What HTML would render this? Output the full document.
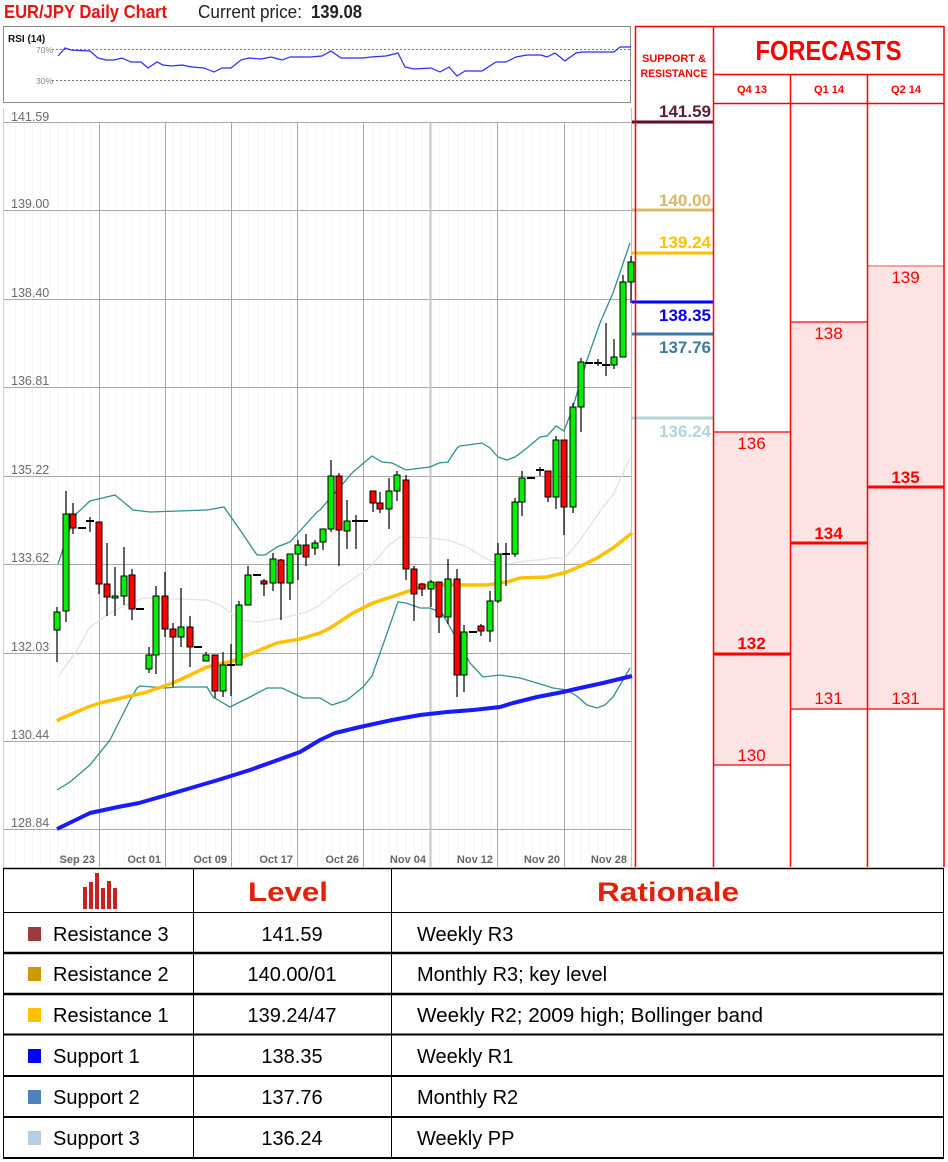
<!DOCTYPE html>
<html><head><meta charset="utf-8"><style>
html,body{margin:0;padding:0;background:#fff;}
svg{display:block;font-family:"Liberation Sans",Arial,sans-serif;}
.w{stroke:#000;stroke-width:1.2;}
.g{fill:#00ee00;stroke:#000;stroke-width:1;}
.r{fill:#ff0000;stroke:#000;stroke-width:1;}
.d{stroke:#000;stroke-width:2;}
.yl{font-size:12.5px;fill:#6a6a6a;}
.xl{font-size:11px;font-weight:bold;fill:#666;text-anchor:end;}
.sr{font-size:17px;font-weight:bold;text-anchor:end;}
.fc{font-size:17px;fill:#ff0000;text-anchor:middle;}
.fb{font-size:17px;fill:#ff0000;font-weight:bold;text-anchor:middle;}
.tb{font-size:20px;fill:#000;}
</style></head><body>
<svg width="948" height="1162" viewBox="0 0 948 1162" xmlns="http://www.w3.org/2000/svg">
<rect x="0" y="0" width="948" height="1162" fill="#fff"/>
<!-- Header -->
<text x="4" y="18" font-size="18" font-weight="bold" fill="#f01010" textLength="163" lengthAdjust="spacingAndGlyphs">EUR/JPY Daily Chart</text>
<text x="198" y="18" font-size="18" fill="#222" textLength="104" lengthAdjust="spacingAndGlyphs">Current price:</text>
<text x="311" y="18" font-size="18" font-weight="bold" fill="#222" textLength="51" lengthAdjust="spacingAndGlyphs">139.08</text>

<!-- RSI box -->
<rect x="3.5" y="26.5" width="627" height="76" fill="#fff" stroke="#8a8a8a" stroke-width="1"/>
<text x="8" y="42" font-size="10" font-weight="bold" fill="#111">RSI (14)</text>
<text x="36" y="53" font-size="8.5" fill="#888">70%</text>
<text x="36" y="84" font-size="8.5" fill="#888">30%</text>
<line x1="52" y1="49.5" x2="630" y2="49.5" stroke="#777" stroke-width="1" stroke-dasharray="2,2"/>
<line x1="52" y1="80.5" x2="630" y2="80.5" stroke="#777" stroke-width="1" stroke-dasharray="2,2"/>
<polyline fill="none" stroke="#2a2aff" stroke-width="1.2" points="58,56 65,48 71,50 90,51 98,58 106,60 114,60 122,58 131,62 141,62 148,68 157,62 163,65 171,66 182,65 192,67 204,68 214,72 222,68 231,68 241,60 249,58 261,59 271,57 282,60 290,57 302,57 310,57 322,56 331,51 341,58 363,58 371,57 386,56 398,53 405,67 414,69 431,68 440,72 449,67 457,76 465,71 482,71 496,62 506,62 516,57 527,55 541,55 547,57 555,53 565,61 576,53 582,52 614,52 620,47 631,47"/>

<!-- Minor vertical grid -->
<g stroke="#f6f6f6" stroke-width="1">
<line x1="15.5" y1="122" x2="15.5" y2="866"/><line x1="24.5" y1="122" x2="24.5" y2="866"/><line x1="32.5" y1="122" x2="32.5" y2="866"/><line x1="40.5" y1="122" x2="40.5" y2="866"/><line x1="49.5" y1="122" x2="49.5" y2="866"/>
<line x1="57.5" y1="122" x2="57.5" y2="866"/><line x1="66.5" y1="122" x2="66.5" y2="866"/><line x1="73.5" y1="122" x2="73.5" y2="866"/><line x1="82.5" y1="122" x2="82.5" y2="866"/><line x1="90.5" y1="122" x2="90.5" y2="866"/>
<line x1="107.5" y1="122" x2="107.5" y2="866"/><line x1="115.5" y1="122" x2="115.5" y2="866"/><line x1="124.5" y1="122" x2="124.5" y2="866"/><line x1="132.5" y1="122" x2="132.5" y2="866"/><line x1="140.5" y1="122" x2="140.5" y2="866"/><line x1="149.5" y1="122" x2="149.5" y2="866"/><line x1="156.5" y1="122" x2="156.5" y2="866"/>
<line x1="173.5" y1="122" x2="173.5" y2="866"/><line x1="181.5" y1="122" x2="181.5" y2="866"/><line x1="190.5" y1="122" x2="190.5" y2="866"/><line x1="198.5" y1="122" x2="198.5" y2="866"/><line x1="206.5" y1="122" x2="206.5" y2="866"/><line x1="215.5" y1="122" x2="215.5" y2="866"/><line x1="223.5" y1="122" x2="223.5" y2="866"/>
<line x1="239.5" y1="122" x2="239.5" y2="866"/><line x1="248.5" y1="122" x2="248.5" y2="866"/><line x1="257.5" y1="122" x2="257.5" y2="866"/><line x1="264.5" y1="122" x2="264.5" y2="866"/><line x1="273.5" y1="122" x2="273.5" y2="866"/><line x1="281.5" y1="122" x2="281.5" y2="866"/><line x1="290.5" y1="122" x2="290.5" y2="866"/>
<line x1="306.5" y1="122" x2="306.5" y2="866"/><line x1="315.5" y1="122" x2="315.5" y2="866"/><line x1="323.5" y1="122" x2="323.5" y2="866"/><line x1="331.5" y1="122" x2="331.5" y2="866"/><line x1="339.5" y1="122" x2="339.5" y2="866"/><line x1="347.5" y1="122" x2="347.5" y2="866"/><line x1="356.5" y1="122" x2="356.5" y2="866"/>
<line x1="373.5" y1="122" x2="373.5" y2="866"/><line x1="380.5" y1="122" x2="380.5" y2="866"/><line x1="389.5" y1="122" x2="389.5" y2="866"/><line x1="397.5" y1="122" x2="397.5" y2="866"/><line x1="406.5" y1="122" x2="406.5" y2="866"/><line x1="414.5" y1="122" x2="414.5" y2="866"/><line x1="422.5" y1="122" x2="422.5" y2="866"/>
<line x1="439.5" y1="122" x2="439.5" y2="866"/><line x1="448.5" y1="122" x2="448.5" y2="866"/><line x1="457.5" y1="122" x2="457.5" y2="866"/><line x1="464.5" y1="122" x2="464.5" y2="866"/><line x1="473.5" y1="122" x2="473.5" y2="866"/><line x1="481.5" y1="122" x2="481.5" y2="866"/><line x1="490.5" y1="122" x2="490.5" y2="866"/>
<line x1="506.5" y1="122" x2="506.5" y2="866"/><line x1="515.5" y1="122" x2="515.5" y2="866"/><line x1="522.5" y1="122" x2="522.5" y2="866"/><line x1="531.5" y1="122" x2="531.5" y2="866"/><line x1="540.5" y1="122" x2="540.5" y2="866"/><line x1="548.5" y1="122" x2="548.5" y2="866"/><line x1="556.5" y1="122" x2="556.5" y2="866"/>
<line x1="573.5" y1="122" x2="573.5" y2="866"/><line x1="581.5" y1="122" x2="581.5" y2="866"/><line x1="589.5" y1="122" x2="589.5" y2="866"/><line x1="598.5" y1="122" x2="598.5" y2="866"/><line x1="606.5" y1="122" x2="606.5" y2="866"/><line x1="614.5" y1="122" x2="614.5" y2="866"/><line x1="623.5" y1="122" x2="623.5" y2="866"/>
</g>

<!-- Major grid -->
<g stroke="#a8a8a8" stroke-width="1">
<line x1="3" y1="122.5" x2="631" y2="122.5"/>
<line x1="3" y1="210.5" x2="631" y2="210.5"/>
<line x1="3" y1="299.5" x2="631" y2="299.5"/>
<line x1="3" y1="387.5" x2="631" y2="387.5"/>
<line x1="3" y1="476.5" x2="631" y2="476.5"/>
<line x1="3" y1="564.5" x2="631" y2="564.5"/>
<line x1="3" y1="653.5" x2="631" y2="653.5"/>
<line x1="3" y1="741.5" x2="631" y2="741.5"/>
<line x1="3" y1="829.5" x2="631" y2="829.5"/>
<line x1="99.5" y1="122" x2="99.5" y2="867"/>
<line x1="165.5" y1="122" x2="165.5" y2="867"/>
<line x1="231.5" y1="122" x2="231.5" y2="867"/>
<line x1="297.5" y1="122" x2="297.5" y2="867"/>
<line x1="363.5" y1="122" x2="363.5" y2="867"/>
<line x1="497.5" y1="122" x2="497.5" y2="867"/>
<line x1="564.5" y1="122" x2="564.5" y2="867"/>
</g>
<line x1="430.5" y1="122" x2="430.5" y2="867" stroke="#c4c4c4" stroke-width="2"/>
<line x1="3.5" y1="108" x2="3.5" y2="867" stroke="#d0d0d0" stroke-width="1"/>
<line x1="631.5" y1="108" x2="631.5" y2="867" stroke="#c0c0c0" stroke-width="1"/>

<!-- Y labels -->
<text class="yl" x="11" y="121">141.59</text>
<text class="yl" x="11" y="208">139.00</text>
<text class="yl" x="11" y="297">138.40</text>
<text class="yl" x="11" y="385">136.81</text>
<text class="yl" x="11" y="474">135.22</text>
<text class="yl" x="11" y="562">133.62</text>
<text class="yl" x="11" y="651">132.03</text>
<text class="yl" x="11" y="739">130.44</text>
<text class="yl" x="11" y="827">128.84</text>

<!-- X labels -->
<text class="xl" x="95" y="863">Sep 23</text>
<text class="xl" x="161" y="863">Oct 01</text>
<text class="xl" x="227" y="863">Oct 09</text>
<text class="xl" x="293" y="863">Oct 17</text>
<text class="xl" x="359" y="863">Oct 26</text>
<text class="xl" x="426" y="863">Nov 04</text>
<text class="xl" x="493" y="863">Nov 12</text>
<text class="xl" x="560" y="863">Nov 20</text>
<text class="xl" x="627" y="863">Nov 28</text>

<!-- Indicator lines -->
<polyline fill="none" stroke="#e2e2e2" stroke-width="1.3" points="58,677 77,650 90,627 110,613 130,603 143,598 207,600 220,605 240,620 257,622 283,618 307,612 320,605 340,588 370,567 387,547 400,537 430,538 448,540 467,547 483,557 500,565 520,562 553,558 565,558 580,540 603,507 613,495 630,458"/>
<polyline fill="none" stroke="#2e9090" stroke-width="1.3" points="58,564 66,540 75,515 90,501 115,495 133,510 150,512 207,510 224,507 240,530 257,555 265,555 277,547 290,542 317,512 320,510 340,487 353,472 372,456 382,462 392,463 406,470 430,467 439,463 448,462 457,448 460,446 482,443 490,448 498,457 507,460 515,457 527,448 540,437 547,436 556,426 564,431 572,410 587,360 600,323 613,293 630,243"/>
<polyline fill="none" stroke="#2e9090" stroke-width="1.3" points="57,790 70,782 90,765 110,740 120,720 130,700 137,688 140,686 165,688 178,687 207,687 213,697 230,707 250,697 267,688 282,688 303,698 320,698 332,705 347,700 363,687 372,676 398,602 406,603 420,608 430,608 442,613 450,627 470,663 483,677 500,675 520,678 537,683 553,688 567,690 578,697 587,705 597,708 605,705 613,697 623,680 630,668"/>
<polyline fill="none" stroke="#ffc000" stroke-width="3.5" stroke-linejoin="round" points="57,721 60,719 88,707 100,703 130,696 147,692 173,683 207,667 233,661 277,643 300,639 320,633 330,628 353,613 373,603 403,593 420,587 430,585 453,585 487,585 507,582 520,578 547,577 567,572 583,565 597,558 613,548 632,533"/>
<polyline fill="none" stroke="#1a1aff" stroke-width="4" stroke-linejoin="round" points="57,829 90,813 118,807 139,803 167,795 218,780 250,770 300,752 320,740 335,733 360,727 392,720 420,715 447,712 473,710 500,707 513,703 537,697 563,692 580,688 603,683 632,676"/>

<!-- Candles -->
<g>
<line class="w" x1="57" y1="607" x2="57" y2="662"/><rect class="g" x="54" y="612" width="6" height="18"/>
<line class="w" x1="66" y1="491" x2="66" y2="622"/><rect class="g" x="63" y="514" width="6" height="97"/>
<line class="w" x1="73" y1="503" x2="73" y2="534"/><rect class="r" x="70" y="514" width="6" height="14"/>
<line class="d" x1="78" y1="528" x2="86" y2="528"/>
<line class="d" x1="86" y1="521" x2="94" y2="521"/><line class="w" x1="90" y1="517" x2="90" y2="532"/>
<line class="w" x1="99" y1="522" x2="99" y2="594"/><rect class="r" x="96" y="522" width="6" height="62"/>
<line class="w" x1="107" y1="543" x2="107" y2="616"/><rect class="r" x="104" y="584" width="6" height="13"/>
<line class="w" x1="115" y1="567" x2="115" y2="616"/><rect class="g" x="112" y="596" width="6" height="2"/>
<line class="w" x1="124" y1="547" x2="124" y2="605"/><rect class="g" x="121" y="576" width="6" height="20"/>
<line class="w" x1="132" y1="569" x2="132" y2="620"/><rect class="r" x="129" y="575" width="6" height="34"/>
<line class="d" x1="136" y1="609" x2="144" y2="609"/>
<line class="w" x1="149" y1="647" x2="149" y2="673"/><rect class="g" x="146" y="655" width="6" height="14"/>
<line class="w" x1="156" y1="586" x2="156" y2="674"/><rect class="g" x="153" y="596" width="6" height="59"/>
<line class="w" x1="165" y1="572" x2="165" y2="637"/><rect class="r" x="162" y="596" width="6" height="33"/>
<line class="w" x1="173" y1="623" x2="173" y2="687"/><rect class="r" x="170" y="629" width="6" height="8"/>
<line class="w" x1="181" y1="588" x2="181" y2="647"/><rect class="g" x="178" y="627" width="6" height="10"/>
<line class="w" x1="190" y1="616" x2="190" y2="667"/><rect class="r" x="187" y="627" width="6" height="20"/>
<line class="d" x1="194" y1="647" x2="202" y2="647"/>
<line class="w" x1="206" y1="652" x2="206" y2="661"/><rect class="g" x="203" y="655" width="6" height="6"/>
<line class="w" x1="215" y1="655" x2="215" y2="698"/><rect class="r" x="212" y="655" width="6" height="36"/>
<line class="w" x1="223" y1="652" x2="223" y2="697"/><rect class="g" x="220" y="665" width="6" height="26"/>
<line class="d" x1="227" y1="665" x2="235" y2="665"/><line class="w" x1="231" y1="644" x2="231" y2="696"/>
<line class="w" x1="239" y1="601" x2="239" y2="665"/><rect class="g" x="236" y="605" width="6" height="60"/>
<line class="w" x1="248" y1="566" x2="248" y2="605"/><rect class="g" x="245" y="575" width="6" height="30"/>
<line class="d" x1="253" y1="575" x2="261" y2="575"/>
<line class="w" x1="264" y1="579" x2="264" y2="596"/><rect class="r" x="261" y="581" width="6" height="3"/>
<line class="w" x1="273" y1="553" x2="273" y2="591"/><rect class="g" x="270" y="559" width="6" height="24"/>
<line class="w" x1="281" y1="559" x2="281" y2="620"/><rect class="r" x="278" y="560" width="6" height="23"/>
<line class="w" x1="290" y1="554" x2="290" y2="600"/><rect class="g" x="287" y="554" width="6" height="29"/>
<line class="w" x1="298" y1="540" x2="298" y2="580"/><rect class="g" x="295" y="545" width="6" height="9"/>
<line class="w" x1="306" y1="534" x2="306" y2="566"/><rect class="r" x="303" y="545" width="6" height="12"/>
<line class="w" x1="315" y1="540" x2="315" y2="555"/><rect class="g" x="312" y="543" width="6" height="5"/>
<line class="w" x1="323" y1="529" x2="323" y2="550"/><rect class="g" x="320" y="529" width="6" height="13"/>
<line class="w" x1="331" y1="460" x2="331" y2="532"/><rect class="g" x="328" y="476" width="6" height="53"/>
<line class="w" x1="339" y1="473" x2="339" y2="566"/><rect class="r" x="336" y="476" width="6" height="54"/>
<line class="w" x1="347" y1="500" x2="347" y2="549"/><rect class="g" x="344" y="521" width="6" height="10"/>
<line class="d" x1="352" y1="521" x2="360" y2="521"/><line class="w" x1="356" y1="515" x2="356" y2="549"/>
<line class="d" x1="360" y1="521" x2="368" y2="521"/>
<line class="w" x1="373" y1="491" x2="373" y2="512"/><rect class="r" x="370" y="491" width="6" height="12"/>
<line class="w" x1="380" y1="492" x2="380" y2="513"/><rect class="r" x="377" y="503" width="6" height="6"/>
<line class="w" x1="389" y1="478" x2="389" y2="529"/><rect class="g" x="386" y="491" width="6" height="18"/>
<line class="w" x1="397" y1="471" x2="397" y2="501"/><rect class="g" x="394" y="475" width="6" height="16"/>
<line class="w" x1="406" y1="475" x2="406" y2="580"/><rect class="r" x="403" y="480" width="6" height="89"/>
<line class="w" x1="414" y1="566" x2="414" y2="621"/><rect class="r" x="411" y="569" width="6" height="25"/>
<line class="w" x1="422" y1="583" x2="422" y2="596"/><rect class="r" x="419" y="584" width="6" height="5"/>
<line class="w" x1="431" y1="580" x2="431" y2="607"/><rect class="g" x="428" y="582" width="6" height="7"/>
<line class="w" x1="439" y1="582" x2="439" y2="633"/><rect class="r" x="436" y="582" width="6" height="35"/>
<line class="w" x1="448" y1="559" x2="448" y2="624"/><rect class="g" x="445" y="579" width="6" height="38"/>
<line class="w" x1="457" y1="569" x2="457" y2="697"/><rect class="r" x="454" y="579" width="6" height="96"/>
<line class="w" x1="464" y1="625" x2="464" y2="692"/><rect class="g" x="461" y="632" width="6" height="43"/>
<line class="d" x1="469" y1="632" x2="477" y2="632"/>
<line class="w" x1="481" y1="624" x2="481" y2="636"/><rect class="r" x="478" y="626" width="6" height="5"/>
<line class="w" x1="490" y1="591" x2="490" y2="642"/><rect class="g" x="487" y="601" width="6" height="30"/>
<line class="w" x1="498" y1="543" x2="498" y2="603"/><rect class="g" x="495" y="554" width="6" height="47"/>
<line class="d" x1="502" y1="554" x2="510" y2="554"/><line class="w" x1="506" y1="543" x2="506" y2="586"/>
<line class="w" x1="515" y1="498" x2="515" y2="557"/><rect class="g" x="512" y="502" width="6" height="52"/>
<line class="w" x1="522" y1="471" x2="522" y2="516"/><rect class="g" x="519" y="478" width="6" height="24"/>
<line class="d" x1="527" y1="478" x2="535" y2="478"/>
<line class="d" x1="536" y1="470" x2="544" y2="470"/><line class="w" x1="540" y1="467" x2="540" y2="476"/>
<line class="w" x1="548" y1="471" x2="548" y2="502"/><rect class="r" x="545" y="471" width="6" height="26"/>
<line class="w" x1="556" y1="436" x2="556" y2="509"/><rect class="g" x="553" y="440" width="6" height="57"/>
<line class="w" x1="564" y1="440" x2="564" y2="535"/><rect class="r" x="561" y="440" width="6" height="67"/>
<line class="w" x1="573" y1="403" x2="573" y2="513"/><rect class="g" x="570" y="407" width="6" height="100"/>
<line class="w" x1="581" y1="358" x2="581" y2="432"/><rect class="g" x="578" y="362" width="6" height="45"/>
<line class="d" x1="585" y1="363" x2="593" y2="363"/>
<line class="d" x1="594" y1="363" x2="602" y2="363"/><line class="w" x1="598" y1="359" x2="598" y2="366"/>
<line class="d" x1="602" y1="365" x2="610" y2="365"/><line class="w" x1="606" y1="323" x2="606" y2="376"/>
<line class="w" x1="614" y1="339" x2="614" y2="369"/><rect class="g" x="611" y="357" width="6" height="8"/>
<line class="w" x1="623" y1="275" x2="623" y2="357"/><rect class="g" x="620" y="282" width="6" height="75"/>
<line class="w" x1="631" y1="256" x2="631" y2="303"/><rect class="g" x="628" y="262" width="6" height="20"/>
</g>

<!-- Forecast fills -->
<rect x="713" y="432" width="77" height="333" fill="#fee3e4"/>
<rect x="790" y="322" width="77" height="387" fill="#fee3e4"/>
<rect x="867" y="266" width="77" height="443" fill="#fee3e4"/>
<g stroke="#ff0000" stroke-width="1.2">
<line x1="713" y1="432" x2="790" y2="432"/><line x1="713" y1="765" x2="790" y2="765"/>
<line x1="790" y1="322" x2="867" y2="322"/><line x1="790" y1="709" x2="944" y2="709"/>
<line x1="867" y1="266" x2="944" y2="266" stroke="#f07070"/>
</g>
<g stroke="#ff0000" stroke-width="3">
<line x1="713" y1="654" x2="790" y2="654"/>
<line x1="790" y1="543" x2="867" y2="543"/>
<line x1="867" y1="487" x2="944" y2="487"/>
</g>
<text class="fc" x="751.5" y="449">136</text>
<text class="fc" x="828.5" y="339">138</text>
<text class="fc" x="905.5" y="283">139</text>
<text class="fb" x="751.5" y="649">132</text>
<text class="fb" x="828.5" y="539">134</text>
<text class="fb" x="905.5" y="483">135</text>
<text class="fc" x="751.5" y="761">130</text>
<text class="fc" x="828.5" y="704">131</text>
<text class="fc" x="905.5" y="704">131</text>

<!-- S&R levels -->
<g stroke-width="3">
<line x1="632" y1="122" x2="714" y2="122" stroke="#5c0a32"/>
<line x1="632" y1="210" x2="714" y2="210" stroke="#dcb86a"/>
<line x1="632" y1="253" x2="714" y2="253" stroke="#ffc000"/>
<line x1="632" y1="302" x2="714" y2="302" stroke="#0000ff"/>
<line x1="632" y1="334" x2="714" y2="334" stroke="#3c7aa5"/>
<line x1="632" y1="418" x2="714" y2="418" stroke="#b3d5d8"/>
</g>
<text class="sr" x="711" y="117" fill="#5c1a3c">141.59</text>
<text class="sr" x="711" y="206" fill="#d9b76a">140.00</text>
<text class="sr" x="711" y="248" fill="#ffc000">139.24</text>
<text class="sr" x="711" y="321" fill="#0000ff">138.35</text>
<text class="sr" x="711" y="353" fill="#3c7aa5">137.76</text>
<text class="sr" x="711" y="437" fill="#b3d5d8">136.24</text>

<!-- Panel borders -->
<g stroke="#ff0000" stroke-width="1.5" fill="none">
<line x1="635.5" y1="26" x2="635.5" y2="867"/>
<line x1="713.5" y1="26" x2="713.5" y2="867"/>
<line x1="790.5" y1="74" x2="790.5" y2="867"/>
<line x1="867.5" y1="74" x2="867.5" y2="867"/>
<line x1="944" y1="26" x2="944" y2="867"/>
<line x1="635" y1="26.5" x2="944" y2="26.5"/>
<line x1="713" y1="74.5" x2="944" y2="74.5"/>
<line x1="713" y1="103.5" x2="944" y2="103.5"/>
</g>
<text x="674" y="62" font-size="11" font-weight="bold" fill="#ff0000" text-anchor="middle" textLength="64" lengthAdjust="spacingAndGlyphs">SUPPORT &amp;</text>
<text x="674" y="77" font-size="11" font-weight="bold" fill="#ff0000" text-anchor="middle" textLength="67" lengthAdjust="spacingAndGlyphs">RESISTANCE</text>
<text x="828.5" y="60" font-size="28" font-weight="bold" fill="#ff0000" text-anchor="middle" textLength="146" lengthAdjust="spacingAndGlyphs">FORECASTS</text>
<text x="752" y="93" font-size="11" font-weight="bold" fill="#ff0000" text-anchor="middle">Q4 13</text>
<text x="829" y="93" font-size="11" font-weight="bold" fill="#ff0000" text-anchor="middle">Q1 14</text>
<text x="906" y="93" font-size="11" font-weight="bold" fill="#ff0000" text-anchor="middle">Q2 14</text>

<!-- Table -->
<g fill="#cc2020">
<rect x="83" y="887" width="4" height="22"/>
<rect x="89" y="882" width="4" height="27"/>
<rect x="95" y="873" width="4" height="36"/>
<rect x="101" y="888" width="4" height="21"/>
<rect x="107" y="881" width="4" height="28"/>
<rect x="113" y="888" width="4" height="21"/>
</g>
<text x="288" y="901" font-size="27" font-weight="bold" fill="#e3200b" text-anchor="middle" textLength="80" lengthAdjust="spacingAndGlyphs">Level</text>
<text x="668" y="901" font-size="27" font-weight="bold" fill="#e3200b" text-anchor="middle" textLength="142" lengthAdjust="spacingAndGlyphs">Rationale</text>

<g stroke="#000" fill="none">
<line x1="3" y1="868.5" x2="944" y2="868.5" stroke-width="1.5"/>
<line x1="3" y1="912.5" x2="944" y2="912.5" stroke-width="1"/>
<line x1="3" y1="953" x2="944" y2="953" stroke-width="2.5"/>
<line x1="3" y1="994" x2="944" y2="994" stroke-width="2.5"/>
<line x1="3" y1="1034.5" x2="944" y2="1034.5" stroke-width="2"/>
<line x1="3" y1="1076" x2="944" y2="1076" stroke-width="2"/>
<line x1="3" y1="1117" x2="944" y2="1117" stroke-width="2"/>
<line x1="3" y1="1158" x2="944" y2="1158" stroke-width="2"/>
<line x1="3.5" y1="868" x2="3.5" y2="1158" stroke-width="1"/>
<line x1="193.5" y1="868" x2="193.5" y2="1158" stroke-width="1"/>
<line x1="391.5" y1="868" x2="391.5" y2="1158" stroke-width="1"/>
<line x1="943.5" y1="868" x2="943.5" y2="1158" stroke-width="1"/>
</g>

<rect x="28" y="927" width="13" height="14" fill="#9b3b3b"/>
<rect x="28" y="967" width="13" height="14" fill="#cc9900"/>
<rect x="28" y="1008" width="13" height="14" fill="#ffc000"/>
<rect x="28" y="1049" width="13" height="14" fill="#0000ff"/>
<rect x="28" y="1090" width="13" height="14" fill="#4f81bd"/>
<rect x="28" y="1131" width="13" height="14" fill="#b8cce4"/>

<text class="tb" x="53" y="941">Resistance 3</text>
<text class="tb" x="53" y="981">Resistance 2</text>
<text class="tb" x="53" y="1022">Resistance 1</text>
<text class="tb" x="53" y="1063">Support 1</text>
<text class="tb" x="53" y="1104">Support 2</text>
<text class="tb" x="53" y="1145">Support 3</text>

<g text-anchor="middle">
<text class="tb" x="292" y="941">141.59</text>
<text class="tb" x="292" y="981">140.00/01</text>
<text class="tb" x="292" y="1022">139.24/47</text>
<text class="tb" x="292" y="1063">138.35</text>
<text class="tb" x="292" y="1104">137.76</text>
<text class="tb" x="292" y="1145">136.24</text>
</g>

<text class="tb" x="417" y="941">Weekly R3</text>
<text class="tb" x="417" y="981">Monthly R3; key level</text>
<text class="tb" x="417" y="1022" textLength="346" lengthAdjust="spacingAndGlyphs">Weekly R2; 2009 high; Bollinger band</text>
<text class="tb" x="417" y="1063">Weekly R1</text>
<text class="tb" x="417" y="1104">Monthly R2</text>
<text class="tb" x="417" y="1145">Weekly PP</text>
</svg>
</body></html>
